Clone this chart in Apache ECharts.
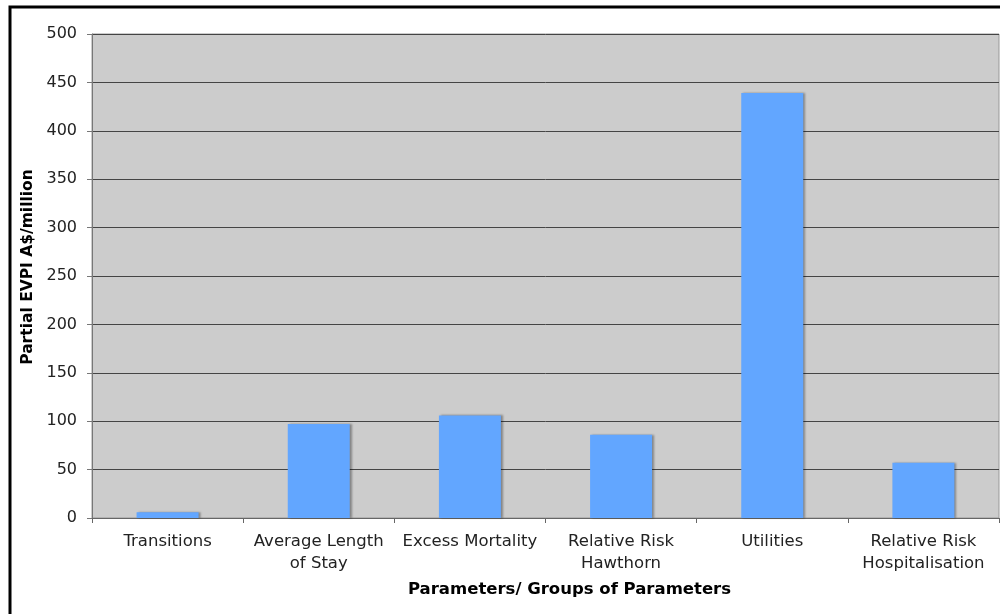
<!DOCTYPE html>
<html>
<head>
<meta charset="utf-8">
<script src="https://cdn.jsdelivr.net/npm/echarts@6/dist/echarts.min.js"></script>
<style>
  html, body { margin: 0; padding: 0; background: #fff; }
  #chart { width: 1000px; height: 614px; }
</style>
</head>
<body>
<div id="chart"></div>
<script>
// Partial EVPI by parameter group
const categories = [
  'Transitions',
  'Average Length\nof Stay',
  'Excess Mortality',
  'Relative Risk\nHawthorn',
  'Utilities',
  'Relative Risk\nHospitalisation'
];
const evpiValues = [6, 97, 106, 86, 439, 57];
const yTicks = { min: 0, max: 500, interval: 50 };

const font = 'DejaVu Sans, Verdana, sans-serif';

const chart = echarts.init(document.getElementById('chart'), null, { renderer: 'canvas' });

chart.setOption({
  animation: false,
  backgroundColor: '#ffffff',
  graphic: [{
    type: 'rect',
    silent: true,
    shape: { x: 10, y: 7, width: 1010, height: 640 },
    style: { fill: 'none', stroke: '#000', lineWidth: 3 }
  }],
  grid: {
    left: 92, right: 1, top: 34, bottom: 96,
    show: true,
    backgroundColor: '#cccccc',
    borderColor: '#999999',
    borderWidth: 1
  },
  xAxis: {
    type: 'category',
    data: categories,
    name: 'Parameters/ Groups of Parameters',
    nameLocation: 'middle',
    nameGap: 63,
    nameTextStyle: {
      fontFamily: font, fontWeight: 'bold', fontSize: 16.5, color: '#000',
      padding: [0, 0, 0, 48]
    },
    axisLine: { lineStyle: { color: '#666', width: 1 } },
    axisTick: { show: true, length: 5, alignWithLabel: false, lineStyle: { color: '#666' } },
    axisLabel: {
      fontFamily: font, fontSize: 16.5, color: '#222',
      margin: 13, lineHeight: 21.5, interval: 0, align: 'center'
    }
  },
  yAxis: {
    type: 'value',
    min: yTicks.min, max: yTicks.max, interval: yTicks.interval,
    name: 'Partial EVPI A$/million',
    nameLocation: 'middle',
    nameGap: 50,
    nameTextStyle: {
      fontFamily: font, fontWeight: 'bold', fontSize: 15.5, color: '#000',
      padding: [0, 0, 0, 18]
    },
    axisLine: { show: true, lineStyle: { color: '#777', width: 1 } },
    axisTick: { show: true, length: 5, lineStyle: { color: '#777' } },
    axisLabel: { fontFamily: font, fontSize: 16, color: '#222', margin: 15 },
    splitLine: { lineStyle: { color: '#444', width: 1 } }
  },
  series: [{
    type: 'bar',
    data: evpiValues,
    barWidth: '41%',
    itemStyle: {
      color: '#62a6ff',
      shadowColor: 'rgba(0,0,0,0.35)',
      shadowOffsetX: 2,
      shadowOffsetY: 0,
      shadowBlur: 2
    }
  }]
});
</script>
</body>
</html>
